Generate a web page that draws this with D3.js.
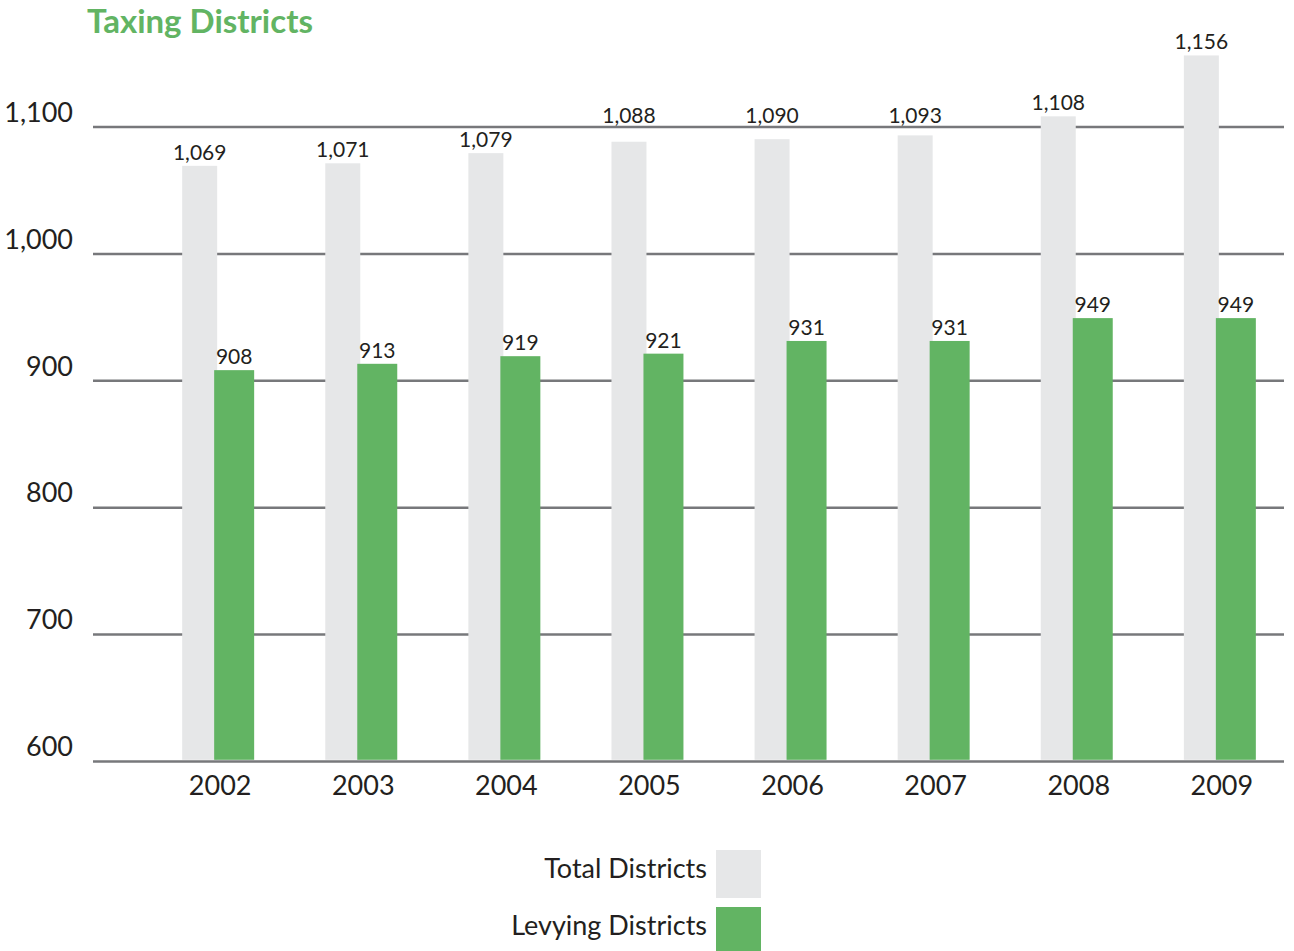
<!DOCTYPE html>
<html>
<head>
<meta charset="utf-8">
<title>Taxing Districts</title>
<script src="https://cdn.jsdelivr.net/npm/d3@7"></script>
<style>
  html, body { margin: 0; padding: 0; background: #ffffff; }
  svg { display: block; }
  text { font-family: Lato, "Open Sans", "Noto Sans", sans-serif; fill: #231f20; }
</style>
</head>
<body>
<svg id="chart" width="1294" height="951"></svg>
<script>
// Yearly counts of taxing districts
const years = ["2002", "2003", "2004", "2005", "2006", "2007", "2008", "2009"];
const totalDistricts = [1069, 1071, 1079, 1088, 1090, 1093, 1108, 1156];
const levyingDistricts = [908, 913, 919, 921, 931, 931, 949, 949];
const yTicks = [600, 700, 800, 900, 1000, 1100];
const seriesNames = ["Total Districts", "Levying Districts"];

const colors = { total: "#e6e7e8", levying: "#62b463", grid: "#77787b", title: "#62b463" };

const svg = d3.select("#chart");
const plot = { left: 93, right: 1284, top: 126.5, bottom: 761 };

const x = d3.scaleBand()
  .domain(years)
  .range([plot.left, plot.right])
  .paddingInner(0.497)
  .paddingOuter(0.41)
  .align(0.76);

const y = d3.scaleLinear()
  .domain([600, 1100])
  .range([plot.bottom, plot.top]);

const bw = x.bandwidth();
const grayW = bw * 35 / 72;
const greenX = bw * 32 / 72;
const greenW = bw * 40 / 72;

// Title
svg.append("text")
  .attr("x", 87)
  .attr("y", 33)
  .style("font-size", "33px")
  .style("font-weight", "700")
  .style("fill", colors.title)
  .text("Taxing Districts");

// Horizontal gridlines with value labels on the left
const yAxis = d3.axisLeft(y)
  .tickValues(yTicks)
  .tickSize(-(plot.right - plot.left))
  .tickPadding(20)
  .tickFormat(d3.format(","));

const gAxis = svg.append("g")
  .attr("transform", `translate(${plot.left},0)`)
  .call(yAxis);
gAxis.select(".domain").remove();
gAxis.selectAll(".tick line")
  .attr("stroke", colors.grid)
  .attr("stroke-width", 2.5);
gAxis.selectAll(".tick text")
  .attr("dy", "-0.12em")
  .attr("y", -2)
  .style("font-size", "27px")
  .style("font-family", "Lato, 'Open Sans', sans-serif")
  .style("fill", "#231f20");

// Bars
const rows = years.map((yr, i) => ({ year: yr, total: totalDistricts[i], levying: levyingDistricts[i] }));

const groups = svg.append("g").selectAll("g")
  .data(rows)
  .join("g")
  .attr("transform", d => `translate(${x(d.year)},0)`);

groups.append("rect")
  .attr("x", 0)
  .attr("width", grayW)
  .attr("y", d => y(d.total))
  .attr("height", d => y(600) - y(d.total) - 1.2)
  .attr("fill", colors.total);

groups.append("rect")
  .attr("x", greenX)
  .attr("width", greenW)
  .attr("y", d => y(d.levying))
  .attr("height", d => y(600) - y(d.levying) - 1.2)
  .attr("fill", colors.levying);

// Value labels; a label that would straddle a gridline is lifted above it
const labelSize = 21, capH = labelSize * 0.72;
function liftOffGrid(base) {
  for (const t of yTicks) {
    const gy = y(t);
    if (base + 2 > gy && base - capH - 2 < gy) return gy - 4;
  }
  return base;
}

groups.append("text")
  .attr("x", grayW / 2)
  .attr("y", d => liftOffGrid(y(d.total) - 6))
  .attr("text-anchor", "middle")
  .style("font-size", labelSize + "px")
  .text(d => d3.format(",")(d.total));

groups.append("text")
  .attr("x", greenX + greenW / 2)
  .attr("y", d => liftOffGrid(y(d.levying) - 6))
  .attr("text-anchor", "middle")
  .style("font-size", labelSize + "px")
  .text(d => d3.format(",")(d.levying));

// Category labels
svg.append("g").selectAll("text")
  .data(years)
  .join("text")
  .attr("x", d => x(d) + bw / 2 + 2)
  .attr("y", 795)
  .attr("text-anchor", "middle")
  .style("font-size", "27px")
  .text(d => d);

// Legend
const legend = svg.append("g").attr("transform", "translate(716,850)");
const legendItems = legend.selectAll("g")
  .data(seriesNames.map((n, i) => ({ name: n, color: i === 0 ? colors.total : colors.levying })))
  .join("g")
  .attr("transform", (d, i) => `translate(0,${i * 57})`);
legendItems.append("rect")
  .attr("width", 45)
  .attr("height", 48)
  .attr("fill", d => d.color);
legendItems.append("text")
  .attr("x", -9)
  .attr("y", 28)
  .attr("text-anchor", "end")
  .style("font-size", "27px")
  .text(d => d.name);
</script>
</body>
</html>
